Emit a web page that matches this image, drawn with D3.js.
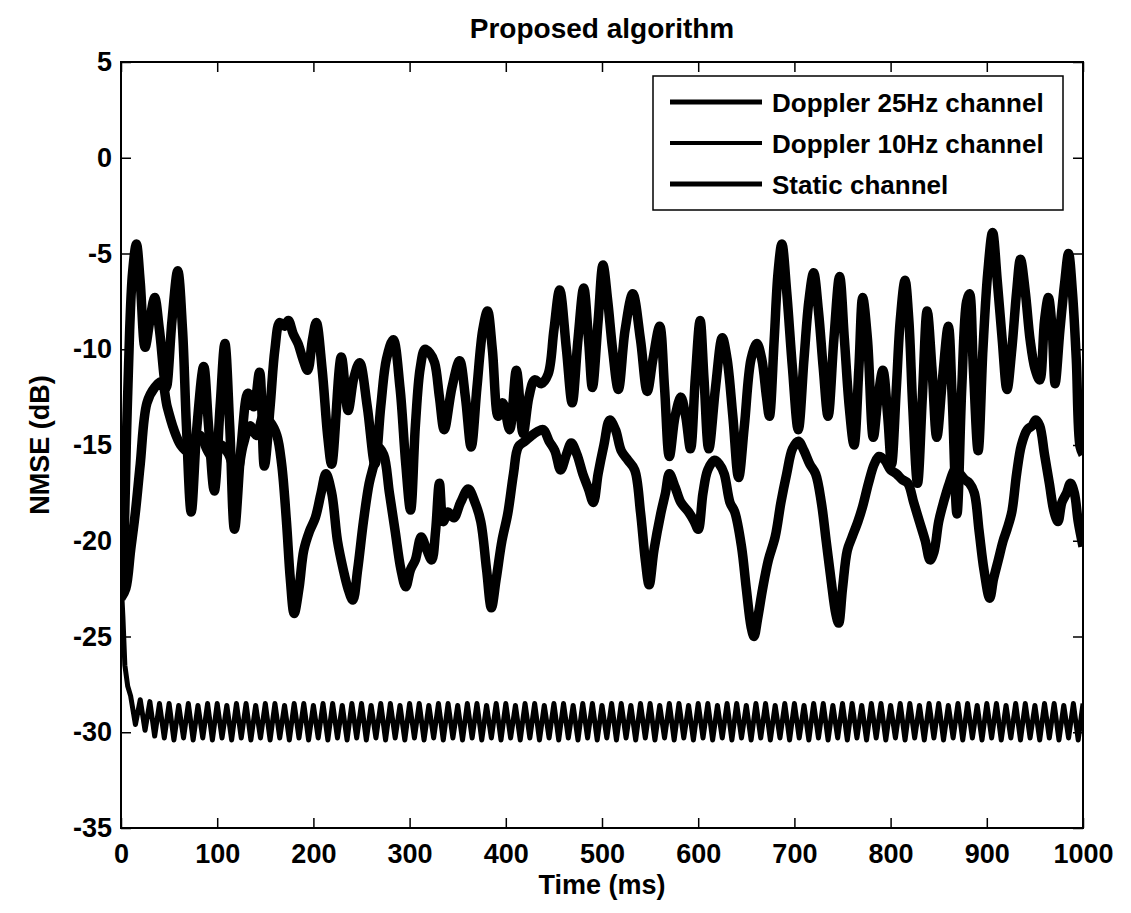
<!DOCTYPE html>
<html>
<head>
<meta charset="utf-8">
<script src="https://cdn.jsdelivr.net/npm/d3@7"></script>
<style>
  body { margin: 0; background: #fff; }
  svg { display: block; }
  text { font-family: "Liberation Sans", Arial, sans-serif; font-weight: bold; fill: #000; }
</style>
</head>
<body>
<svg width="1131" height="913"></svg>
<script>
// Doppler 25Hz channel: times (ms) and NMSE (dB)
var d25Time = [0, 3, 6, 9, 12, 16, 20, 25, 30, 35, 40, 47, 53, 59, 64, 68, 73, 79, 86, 91,
  97, 103, 108, 113, 118, 125, 132, 138, 144, 149, 155, 160, 165, 170, 174, 179, 184, 189, 194, 199,
  203, 209, 215, 219, 229, 236, 242, 248, 256, 264, 270, 276, 283, 290, 296, 301, 306, 311, 316, 321,
  326, 331, 336, 344, 352, 358, 364, 370, 376, 381, 386, 392, 397, 404, 411, 418, 424, 430, 437, 444,
  450, 456, 463, 469, 475, 481, 486, 490, 496, 501, 506, 511, 517, 524, 532, 540, 547, 553, 560, 565,
  570, 576, 582, 587, 592, 597, 602, 606, 611, 618, 625, 630, 636, 642, 648, 655, 661, 666, 671, 674,
  679, 683, 687, 692, 698, 704, 710, 715, 720, 725, 730, 735, 741, 747, 752, 757, 762, 767, 771, 776,
  782, 787, 792, 797, 801, 806, 810, 815, 819, 823, 828, 833, 838, 843, 848, 854, 860, 864, 869, 874,
  879, 882, 886, 891, 896, 901, 906, 911, 916, 921, 926, 931, 935, 940, 945, 950, 955, 960, 964, 968,
  971, 976, 981, 985, 989, 993, 997, 1000];
var d25NMSE = [-22.5, -20, -14, -9, -6, -4.5, -6.5, -9.9, -8.5, -7.3, -9, -12, -8.5, -5.9, -9, -14, -18.5, -14, -10.9, -14,
  -17.4, -13, -9.7, -14, -19.4, -15, -12.3, -13, -11.2, -16.1, -13, -10, -8.6, -8.8, -8.5, -9.2, -9.7, -10.5, -11.1, -9.5,
  -8.6, -11, -14.6, -16, -10.4, -13.2, -11.5, -10.7, -13, -16, -13, -10.5, -9.5, -12, -16, -18.4, -14, -11, -10, -10.2,
  -10.7, -12.5, -14.2, -12, -10.6, -12.5, -15.1, -12, -9, -8, -10, -13.5, -12.8, -14.2, -11.1, -14.4, -12.5, -11.6, -11.8, -11.3,
  -9, -6.9, -10, -12.8, -9.5, -6.8, -9.5, -12, -8.5, -5.6, -7.5, -10, -12.1, -9, -7.1, -9.5, -12.2, -10.5, -8.8, -12,
  -15.6, -13.5, -12.5, -13.5, -15.2, -11.5, -8.5, -11.5, -15.2, -12, -9.4, -10.5, -13.5, -16.7, -14, -10.5, -9.7, -10.5, -12.5, -13.5,
  -9.5, -6, -4.5, -7, -11, -14.2, -10.5, -7.5, -6, -8, -11, -13.5, -9.5, -6.2, -9.5, -13, -15, -11, -7.3, -9.5,
  -14.6, -12.5, -11.1, -13.5, -16, -12, -8.5, -6.4, -8.5, -13, -17, -12.5, -8, -11, -14.6, -11.5, -8.8, -12.5, -18.6, -12,
  -7.5, -7.1, -11, -15.3, -10, -6, -3.9, -6.5, -9.5, -12.1, -10, -7, -5.3, -7, -9.5, -11, -11.6, -8.5, -7.3, -9,
  -11.8, -9, -6.5, -5, -7, -10.5, -15.1, -15.5];

// Doppler 10Hz channel
var d10Time = [0, 5, 10, 15, 20, 27, 35, 42, 48, 55, 62, 68, 75, 82, 90, 97, 104, 112, 120, 127,
  134, 141, 148, 155, 162, 167, 172, 176, 180, 185, 190, 196, 202, 208, 213, 219, 225, 231, 236, 241,
  246, 252, 258, 263, 267, 273, 279, 285, 291, 296, 301, 306, 312, 318, 323, 327, 331, 335, 340, 346,
  353, 361, 368, 374, 380, 385, 390, 396, 402, 408, 413, 420, 427, 433, 439, 445, 451, 457, 463, 468,
  474, 480, 486, 491, 496, 502, 508, 514, 520, 527, 534, 540, 545, 549, 554, 561, 566, 570, 576, 582,
  590, 596, 600, 605, 610, 617, 622, 627, 633, 638, 645, 650, 655, 658, 662, 667, 673, 680, 686, 692,
  698, 704, 710, 716, 722, 728, 733, 738, 743, 746, 750, 755, 760, 766, 771, 777, 783, 788, 794, 800,
  806, 812, 818, 824, 830, 836, 841, 845, 850, 855, 861, 867, 872, 877, 882, 887, 892, 897, 903, 907,
  912, 917, 921, 926, 931, 936, 942, 947, 951, 955, 960, 965, 970, 974, 978, 983, 987, 991, 995, 1000];
var d10NMSE = [-23, -22.5, -20.5, -18.5, -16, -12.8, -12, -11.7, -13, -14.2, -15, -15.3, -14.8, -14.5, -15.3, -15.8, -15, -15.5, -16.5, -15,
  -14, -14.5, -13.5, -13.8, -14.5, -16, -19, -22, -23.8, -22.5, -20.5, -19.5, -18.8, -17.5, -16.5, -17.5, -20, -21.5, -22.5, -23.1,
  -21.5, -19, -17, -16, -15.1, -15.5, -17.5, -19.5, -21.5, -22.4, -21.5, -21, -19.8, -20.5, -21, -19.5, -17, -19, -18.5, -18.8,
  -18, -17.3, -18, -19, -21.5, -23.5, -22, -20, -18.6, -16.5, -15.1, -14.8, -14.5, -14.3, -14.2, -14.8, -15.3, -16.3, -15.5, -14.9,
  -15.5, -16.5, -17.3, -18, -16.5, -15, -13.7, -14.2, -15.3, -15.8, -16.3, -18.5, -21, -22.3, -20.5, -18.6, -17.5, -16.5, -17.2, -18,
  -18.5, -19, -19.4, -17.5, -16.3, -15.8, -16, -16.5, -18, -18.5, -20.3, -22.5, -24.5, -25, -24, -22.5, -21, -19.8, -18, -16.5,
  -15.2, -14.8, -15.3, -16, -16.5, -18, -20, -22, -23.8, -24.3, -22.5, -20.5, -19.8, -19, -18.2, -17, -16, -15.6, -15.8, -16.3,
  -16.5, -16.8, -17, -18, -19, -20, -21, -20.6, -19, -18, -17, -16.3, -16.5, -16.8, -17, -17.5, -19.5, -21.5, -23, -22,
  -21, -20, -19.4, -18.5, -16.5, -15, -14.2, -14, -13.7, -14, -15.5, -17, -18.5, -19, -18, -17.5, -17, -17.5, -19, -20.3];

// Static channel: initial drop, then samples every 5 ms from 10 ms on
var staticHeadTime = [0, 2, 4, 7];
var staticHeadNMSE = [-22, -24, -26.5, -27.6];
var staticStart = 10, staticStep = 5;
var staticNMSE = [-28.1, -29.6, -28.3, -29.9, -28.4, -30.2, -28.5, -30.3, -28.5, -30.4, -28.6, -30.3, -28.5, -30.4, -28.6, -30.3, -28.5, -30.4, -28.5, -30.3,
  -28.6, -30.4, -28.5, -30.3, -28.5, -30.4, -28.6, -30.3, -28.5, -30.4, -28.5, -30.3, -28.6, -30.4, -28.5, -30.3, -28.5, -30.4, -28.6, -30.3,
  -28.5, -30.4, -28.5, -30.3, -28.6, -30.4, -28.5, -30.3, -28.5, -30.4, -28.6, -30.3, -28.5, -30.4, -28.5, -30.3, -28.6, -30.4, -28.5, -30.3,
  -28.5, -30.4, -28.6, -30.3, -28.5, -30.4, -28.5, -30.3, -28.6, -30.4, -28.5, -30.3, -28.5, -30.4, -28.6, -30.3, -28.5, -30.4, -28.5, -30.3,
  -28.6, -30.4, -28.5, -30.3, -28.5, -30.4, -28.6, -30.3, -28.5, -30.4, -28.5, -30.3, -28.6, -30.4, -28.5, -30.3, -28.5, -30.4, -28.6, -30.3,
  -28.5, -30.4, -28.5, -30.3, -28.6, -30.4, -28.5, -30.3, -28.5, -30.4, -28.6, -30.3, -28.5, -30.4, -28.5, -30.3, -28.6, -30.4, -28.5, -30.3,
  -28.5, -30.4, -28.6, -30.3, -28.5, -30.4, -28.5, -30.3, -28.6, -30.4, -28.5, -30.3, -28.5, -30.4, -28.6, -30.3, -28.5, -30.4, -28.5, -30.3,
  -28.6, -30.4, -28.5, -30.3, -28.5, -30.4, -28.6, -30.3, -28.5, -30.4, -28.5, -30.3, -28.6, -30.4, -28.5, -30.3, -28.5, -30.4, -28.6, -30.3,
  -28.5, -30.4, -28.5, -30.3, -28.6, -30.4, -28.5, -30.3, -28.5, -30.4, -28.6, -30.3, -28.5, -30.4, -28.5, -30.3, -28.6, -30.4, -28.5, -30.3,
  -28.5, -30.4, -28.6, -30.3, -28.5, -30.4, -28.5, -30.3, -28.6, -30.4, -28.5, -30.3, -28.5, -30.4, -28.6, -30.3, -28.5, -30.4, -28.5];

var xTicks = [0, 100, 200, 300, 400, 500, 600, 700, 800, 900, 1000];
var yTicks = [-35, -30, -25, -20, -15, -10, -5, 0, 5];
var legendLabels = ["Doppler 25Hz channel", "Doppler 10Hz channel", "Static channel"];

var svg = d3.select("svg"),
    margin = {top: 62, right: 48, bottom: 85, left: 121},
    width = svg.attr("width") - margin.left - margin.right,
    height = svg.attr("height") - margin.top - margin.bottom,
    g = svg.append("g").attr("transform", "translate(" + margin.left + "," + margin.top + ")");

var x = d3.scaleLinear().domain([0, 1000]).range([0, width]),
    y = d3.scaleLinear().domain([-35, 5]).range([height, 0]);

// plain labels, hyphen minus and no thousands comma as in the figure
var plain = function(d) { return String(d); };

function zipSeries(ts, vs) {
  return ts.map(function(t, i) { return {t: t, v: vs[i]}; });
}

var series = [
  {id: legendLabels[0], values: zipSeries(d25Time, d25NMSE), w: 9.5, curve: d3.curveCatmullRom.alpha(0.5)},
  {id: legendLabels[1], values: zipSeries(d10Time, d10NMSE), w: 9.5, curve: d3.curveCatmullRom.alpha(0.5)},
  {id: legendLabels[2], values: zipSeries(staticHeadTime, staticHeadNMSE).concat(
      staticNMSE.map(function(v, i) { return {t: staticStart + i * staticStep, v: v}; })), w: 5, curve: d3.curveLinear}
];

g.append("clipPath").attr("id", "clip")
  .append("rect").attr("width", width).attr("height", height);

g.selectAll(".series")
  .data(series.slice().reverse())
  .enter().append("path")
    .attr("class", "series")
    .attr("clip-path", "url(#clip)")
    .attr("d", function(d) {
      return d3.line()
        .curve(d.curve)
        .x(function(p) { return x(p.t); })
        .y(function(p) { return y(p.v); })(d.values);
    })
    .attr("fill", "none")
    .attr("stroke", "#000")
    .attr("stroke-width", function(d) { return d.w; })
    .attr("stroke-linejoin", "round");

// axes, MATLAB style: ticks inward on all four sides
var tickLen = 10;
g.append("g")
    .attr("transform", "translate(0," + height + ")")
    .call(d3.axisBottom(x).tickValues(xTicks).tickFormat(plain).tickSizeInner(-tickLen).tickSizeOuter(0).tickPadding(tickLen + 6))
    .call(function(a) { a.select(".domain").remove(); });
g.append("g")
    .call(d3.axisTop(x).tickValues(xTicks).tickSizeInner(-tickLen).tickSizeOuter(0).tickFormat(""))
    .call(function(a) { a.select(".domain").remove(); });
g.append("g")
    .call(d3.axisLeft(y).tickValues(yTicks).tickFormat(plain).tickSizeInner(-tickLen).tickSizeOuter(0).tickPadding(tickLen - 1))
    .call(function(a) { a.select(".domain").remove(); });
g.append("g")
    .attr("transform", "translate(" + width + ",0)")
    .call(d3.axisRight(y).tickValues(yTicks).tickSizeInner(-tickLen).tickSizeOuter(0).tickFormat(""))
    .call(function(a) { a.select(".domain").remove(); });

g.selectAll(".tick line").attr("stroke", "#000").attr("stroke-width", 1.5);
g.selectAll(".tick text").style("font-size", "27px");

g.append("rect")
    .attr("width", width)
    .attr("height", height)
    .attr("fill", "none")
    .attr("stroke", "#000")
    .attr("stroke-width", 2);

// titles
svg.append("text")
    .attr("x", margin.left + width / 2)
    .attr("y", 38)
    .attr("text-anchor", "middle")
    .style("font-size", "28px")
    .text("Proposed algorithm");

svg.append("text")
    .attr("x", margin.left + width / 2)
    .attr("y", 894)
    .attr("text-anchor", "middle")
    .style("font-size", "27px")
    .text("Time (ms)");

svg.append("text")
    .attr("transform", "translate(49," + (margin.top + height / 2) + ") rotate(-90)")
    .attr("text-anchor", "middle")
    .style("font-size", "27px")
    .text("NMSE (dB)");

// legend
var legend = svg.append("g").attr("transform", "translate(653,76)");
legend.append("rect")
    .attr("width", 410)
    .attr("height", 134)
    .attr("fill", "#fff")
    .attr("stroke", "#000")
    .attr("stroke-width", 1.5);

var item = legend.selectAll(".item")
  .data(series)
  .enter().append("g")
    .attr("class", "item")
    .attr("transform", function(d, i) { return "translate(0," + (26 + i * 41) + ")"; });

item.append("line")
    .attr("x1", 17).attr("x2", 109)
    .attr("stroke", "#000")
    .attr("stroke-width", function(d, i) { return i == 1 ? 4 : 5; });

item.append("text")
    .attr("x", 119)
    .attr("y", 10)
    .style("font-size", "26px")
    .text(function(d) { return d.id; });
</script>
</body>
</html>
